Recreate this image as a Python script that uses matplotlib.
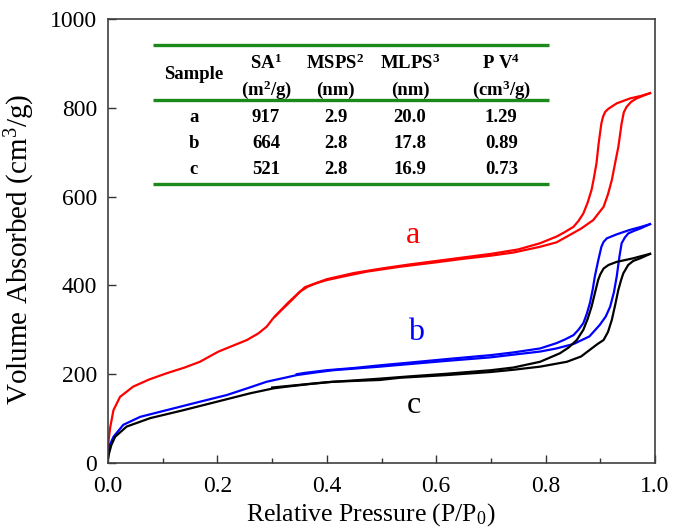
import matplotlib
matplotlib.use("Agg")
import matplotlib.pyplot as plt
from matplotlib.ticker import MultipleLocator

plt.rcParams["font.family"] = ["Liberation Serif", "DejaVu Serif"]
plt.rcParams["mathtext.fontset"] = "custom"
plt.rcParams["mathtext.rm"] = "Liberation Serif"
plt.rcParams["mathtext.it"] = "Liberation Serif:italic"
plt.rcParams["mathtext.bf"] = "Liberation Serif:bold"

# ---- N2 sorption isotherms (P/P0, volume in cm3/g) ----
a_ads_p = [0.0005, 0.001, 0.004, 0.010, 0.022, 0.046, 0.075, 0.107, 0.140, 0.168,
           0.202, 0.230, 0.254, 0.275, 0.290, 0.302, 0.315, 0.327, 0.340, 0.351,
           0.365, 0.381, 0.400, 0.430, 0.473, 0.534, 0.600, 0.650, 0.700, 0.741,
           0.790, 0.820, 0.839, 0.865, 0.887, 0.906, 0.914, 0.921, 0.927, 0.933,
           0.939, 0.943, 0.948, 0.956, 0.966, 0.980, 0.991]
a_ads_v = [30, 50, 80, 119, 149, 172, 188, 202, 215, 228,
           251, 265, 277, 292, 307, 326, 342, 356, 372, 386,
           397, 405, 412, 420, 431, 442, 452, 460, 467, 474,
           487, 497, 510, 528, 547, 577, 605, 637, 675, 712,
           765, 790, 802, 813, 821, 828, 833]
a_des_p = [0.991, 0.975, 0.954, 0.930, 0.915, 0.909, 0.905, 0.902, 0.897, 0.893,
           0.888, 0.884, 0.877, 0.869, 0.860, 0.851, 0.835, 0.820, 0.790, 0.750,
           0.700, 0.650, 0.600, 0.550, 0.500, 0.450, 0.400, 0.360, 0.330, 0.305]
a_des_v = [833, 827, 821, 810, 798, 791, 780, 765, 720, 675,
           640, 615, 587, 562, 545, 532, 520, 510, 495, 481,
           471, 463, 455, 447, 438, 428, 414, 396, 362, 330]

b_ads_p = [0.0005, 0.002, 0.010, 0.028, 0.059, 0.107, 0.168, 0.217, 0.254, 0.290,
           0.327, 0.345, 0.380, 0.412, 0.497, 0.534, 0.619, 0.700, 0.741, 0.790,
           0.820, 0.851, 0.880, 0.899, 0.910, 0.918, 0.925, 0.930, 0.935, 0.939,
           0.945, 0.951, 0.962, 0.973, 0.991]
b_ads_v = [20, 37, 59, 86, 104, 119, 138, 153, 168, 183,
           193, 198, 204, 209, 217, 221, 230, 238, 244, 251,
           258, 268, 285, 311, 330, 352, 385, 420, 465, 495,
           508, 517, 523, 528, 538]
b_des_p = [0.991, 0.975, 0.954, 0.930, 0.912, 0.906, 0.902, 0.896, 0.890, 0.886,
           0.881, 0.875, 0.869, 0.860, 0.851, 0.835, 0.820, 0.790, 0.741, 0.700,
           0.619, 0.550, 0.497, 0.450, 0.400, 0.360, 0.345]
b_des_v = [538, 532, 525, 515, 506, 498, 487, 455, 420, 390,
           360, 335, 315, 300, 288, 278, 270, 258, 249, 243,
           234, 226, 220, 214, 209, 203, 200]

c_ads_p = [0.0005, 0.002, 0.006, 0.013, 0.034, 0.077, 0.138, 0.199, 0.260, 0.302,
           0.327, 0.370, 0.412, 0.497, 0.534, 0.619, 0.700, 0.741, 0.790, 0.839,
           0.865, 0.881, 0.895, 0.906, 0.914, 0.921, 0.927, 0.933, 0.938, 0.942,
           0.951, 0.960, 0.973, 0.991]
c_ads_v = [12, 22, 40, 59, 82, 101, 119, 138, 157, 168,
           172, 178, 183, 187, 192, 198, 205, 210, 217, 228,
           240, 255, 268, 277, 295, 322, 355, 390, 412, 427,
           446, 455, 461, 471]
c_des_p = [0.991, 0.975, 0.960, 0.930, 0.915, 0.906, 0.900, 0.896, 0.890, 0.884,
           0.877, 0.869, 0.857, 0.842, 0.826, 0.790, 0.741, 0.700, 0.619, 0.550,
           0.497, 0.450, 0.400, 0.350, 0.300]
c_des_v = [471, 466, 461, 453, 446, 438, 425, 412, 382, 352,
           325, 300, 277, 260, 247, 228, 215, 209, 201, 195,
           190, 186, 182, 176, 170]

# ---- textural properties table ----
table_header_top = ["Sample", r"SA$^{\mathbf{1}}$", r"MSPS$^{\mathbf{2}}$",
                    r"MLPS$^{\mathbf{3}}$", r"P V$^{\mathbf{4}}$"]
table_header_units = ["", r"(m$^{\mathbf{2}}$/g)", "(nm)", "(nm)", r"(cm$^{\mathbf{3}}$/g)"]
samples = ["a", "b", "c"]
surface_area = ["917", "664", "521"]
mesopore_small = ["2.9", "2.8", "2.8"]
mesopore_large = ["20.0", "17.8", "16.9"]
pore_volume = ["1.29", "0.89", "0.73"]

fig = plt.figure(figsize=(6.74, 5.30), dpi=100)
ax = fig.add_axes([108 / 674, 1 - 463 / 530, 547 / 674, 444 / 530])

series = [
    (a_ads_p, a_ads_v, a_des_p, a_des_v, "#ff0000"),
    (b_ads_p, b_ads_v, b_des_p, b_des_v, "#0000ff"),
    (c_ads_p, c_ads_v, c_des_p, c_des_v, "#000000"),
]
for ap, av, dp, dv, col in series:
    ax.plot(ap, av, color=col, lw=1.6, solid_joinstyle="round")
    ax.plot(dp, dv, color=col, lw=1.6, solid_joinstyle="round")

ax.set_xlim(0, 1.0)
ax.set_ylim(0, 1000)
ax.xaxis.set_major_locator(MultipleLocator(0.2))
ax.xaxis.set_minor_locator(MultipleLocator(0.1))
ax.yaxis.set_major_locator(MultipleLocator(200))
ax.tick_params(axis="both", which="major", direction="in", length=6, width=1.0,
               labelsize=17, color="#333333")
ax.tick_params(axis="x", which="major", pad=9)
ax.tick_params(axis="y", which="major", pad=8)
ax.tick_params(axis="x", which="minor", direction="in", length=3.5, width=1.0,
               color="#333333")
ax.xaxis.set_major_formatter(plt.FuncFormatter(lambda v, _: f"{v:.1f}"))
for sp in ax.spines.values():
    sp.set_color("#404040")
    sp.set_linewidth(1.2)

ax.set_xlabel(r"Relative Pressure (P/P$_{0}$)", fontsize=18.5)
ax.set_ylabel(r"Volume Absorbed (cm$^{3}$/g)", fontsize=21)
ax.xaxis.set_label_coords(0.48, -0.085, transform=ax.transAxes)
ax.yaxis.set_label_coords(-0.13, 0.48, transform=ax.transAxes)
ax.xaxis.label.set_va("top")

# curve labels
ax.text(0.558, 513, "a", color="#ff0000", fontsize=23, ha="center", va="center")
ax.text(0.563, 293, "b", color="#0000ff", fontsize=23, ha="center", va="center")
ax.text(0.560, 130, "c", color="#000000", fontsize=23, ha="center", va="center")

# table drawn in axes coordinates
green = "#1b8a1b"
tr = ax.transAxes
for yy in (0.9414, 0.8176, 0.6284):
    ax.plot([0.0823, 0.806], [yy, yy], color=green, lw=2.4, transform=tr,
            solid_capstyle="butt")
col_x = [0.157, 0.289, 0.416, 0.552, 0.719]
tkw = dict(transform=tr, ha="center", va="center", fontsize=13.5, fontweight="bold")
ax.text(col_x[0], 0.874, table_header_top[0], **tkw)
for x, top, unit in zip(col_x[1:], table_header_top[1:], table_header_units[1:]):
    ax.text(x, 0.901, top, **tkw)
    ax.text(x, 0.840, unit, **tkw)
row_y = [0.779, 0.720, 0.662]
for i, y in enumerate(row_y):
    vals = [samples[i], surface_area[i], mesopore_small[i], mesopore_large[i], pore_volume[i]]
    for x, v in zip(col_x, vals):
        ax.text(x, y, v, **tkw)

fig.savefig("out.png", dpi=100)
